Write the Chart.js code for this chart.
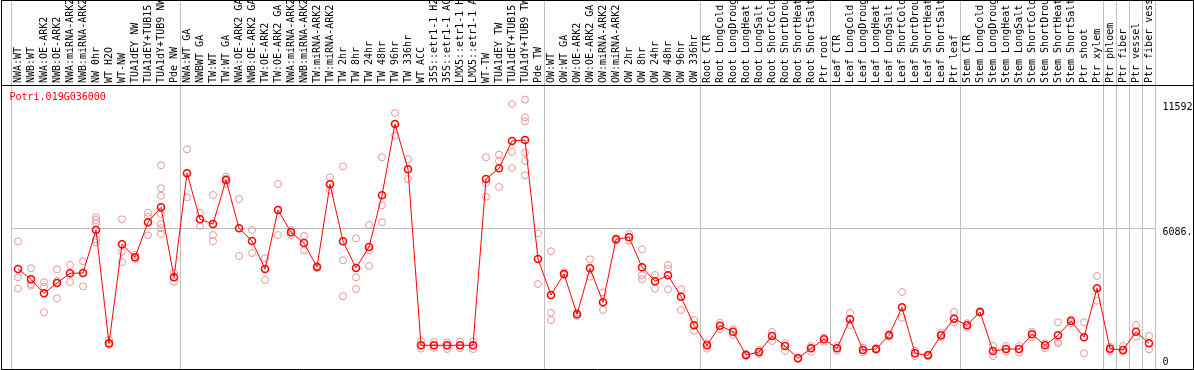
<!DOCTYPE html>
<html>
<head>
<meta charset="utf-8">
<script src="https://cdn.jsdelivr.net/npm/chart.js@4/dist/chart.umd.min.js"></script>
<style>
  html, body { margin: 0; padding: 0; background: #fff; }
  #wrap { width: 1194px; height: 370px; position: relative; }
</style>
</head>
<body>
<div id="wrap"><canvas id="c" width="1194" height="370"></canvas></div>
<script>
const geneName = 'Potri.019G036000';

const categories = [
  'NWA:WT','NWB:WT','NWA:OE-ARK2','NWB:OE-ARK2','NWA:miRNA-ARK2','NWB:miRNA-ARK2','NW 0hr','WT H2O','WT-NW','TUA1dEY NW','TUA1dEY+TUB15 NW','TUA1dY+TUB9 NW','Pde NW',
  'NWA:WT GA','NWBWT GA','TW:WT','TW:WT GA','NWA:OE-ARK2 GA','NWB:OE-ARK2 GA','TW:OE-ARK2','TW:OE-ARK2 GA','NWA:miRNA-ARK2 GA','NWB:miRNA-ARK2 GA','TW:miRNA-ARK2','TW:miRNA-ARK2 GA',
  'TW 2hr','TW 8hr','TW 24hr','TW 48hr','TW 96hr','TW 336hr','WT ACC','35S::etr1-1 H2O','35S::etr1-1 ACC','LMX5::etr1-1 H2O','LMX5::etr1-1 ACC','WT-TW','TUA1dEY TW','TUA1dEY+TUB15 TW','TUA1dY+TUB9 TW','Pde TW',
  'OW:WT','OW:WT GA','OW:OE-ARK2','OW:OE-ARK2 GA','OW:miRNA-ARK2','OW:miRNA-ARK2 GA','OW 2hr','OW 8hr','OW 24hr','OW 48hr','OW 96hr','OW 336hr',
  'Root CTR','Root LongCold','Root LongDrought','Root LongHeat','Root LongSalt','Root ShortCold','Root ShortDrought','Root ShortHeat','Root ShortSalt','Ptr root',
  'Leaf CTR','Leaf LongCold','Leaf LongDrought','Leaf LongHeat','Leaf LongSalt','Leaf ShortCold','Leaf ShortDrought','Leaf ShortHeat','Leaf ShortSalt','Ptr leaf',
  'Stem CTR','Stem LongCold','Stem LongDrought','Stem LongHeat','Stem LongSalt','Stem ShortCold','Stem ShortDrought','Stem ShortHeat','Stem ShortSalt','Ptr shoot','Ptr xylem',
  'Ptr phloem','Ptr fiber','Ptr vessel','Ptr fiber vessel'
];

const meanValues = [
  4329,3888,3288,3729,4145,4158,6001,1144,5388,4831,6331,6974,3973,
  8431,6459,6258,8144,6074,5529,4329,6858,5902,5443,4415,7959,5516,4372,5272,7488,10544,8602,1059,1059,1059,1059,1059,8187,8645,9815,9858,4758,
  3215,4115,2387,4359,2902,5602,5688,4402,3802,4059,3142,1916,
  1059,1899,1642,643,772,1457,1029,501,930,1316,
  930,2173,857,900,1487,2687,716,630,1487,2199,
  1916,2486,814,900,900,1530,1059,1487,2100,1402,3502,
  913,857,1642,1144
];

const replicateValues = [
  [5516,3973,3485],[4359,3686,3613],[3759,3570,2473],[4316,3815,3073],[4501,3772],[4659,3588],
  [6545,6429,6287,5602,5474],[1286,1072],[6459,5071,4629],[4929,4831,4758],[6742,6571,5774],
  [8774,7788,7471,6674,6258,6074,5829],[4170,3785],
  [9460,7402],[6742,6185],[7501,5786,5516],[8285,8200,7972],[7329,4886],[6001,5015],[4788,3858],
  [7972,5786],[6001,5786],[5744,5131],[4458,4372],[8259,7715],[8731,4702,3159],[5645,3973,3472],
  [6215,5143,4458],[9117,7059,6331],[11016,10043],[9031,8187],[1243,913],[1200,950],[1180,900],
  [1220,930],[1230,900],[9117,8015,7428],[9228,8958,7844],[11401,9344,8658],
  [11592,10831,10660,9314,8958,8345],[5859,3686],
  [5088,2456,2143],[4188,4072],[2456,2315],[4745,3999],[3330,2572],[5640,5560],[5829,5550],
  [5173,4059,3888],[4072,3485],[4501,4329,3459],[3459,2572],[2143,1684],
  [1144,913],[2027,1744],[1744,1500],[690,600],[857,686],[1629,1243],[1144,814],[520,480],[1029,784],[1402,1213],
  [1029,827],[2443,1929],[956,759],[940,860],[1540,1430],[3343,2242],[827,600],[660,600],[1599,1402],[2486,2027],
  [2002,1830],[2520,2450],[1030,600],[1029,784],[1029,742],[1642,1402],[1144,930],[2045,1213,1144],[2173,2002],[2045,716],[4029,2970],
  [999,814],[1029,784],[1929,1427],[1457,887]
];

const groupBoundaries = [0, 13, 41, 53, 63, 73, 84, 85, 86, 87, 88];
const yMax = 12172.8;
const yTickValues = [0, 6086.4, 11592];
const yTickLabels = ['0', '6086.4', '11592'];
const yGridValue = 6086.4;

const FONT = 'DejaVu Sans Mono';
const GRID = 'rgb(192,192,192)';
const MEAN_COLOR = 'rgb(255,0,0)';
const REP_COLOR = 'rgb(236,150,150)';

const replicatePoints = [];
replicateValues.forEach((reps, i) => reps.forEach(v => replicatePoints.push({ x: categories[i], y: v })));

const isBoundary = (ctx) => ctx.type !== 'tick' || groupBoundaries.includes(ctx.index);

// vertical placement of the y tick labels relative to their tick (2-line labels)
const yLabelShape = [
  { lines: (t) => [t, ''], lh: 15 },
  { lines: (t) => ['', t], lh: 9 },
  { lines: (t) => ['', t], lh: 16 }
];

const framePlugin = {
  id: 'frame',
  afterDraw(chart) {
    const ctx = chart.ctx;
    const a = chart.chartArea;
    ctx.save();
    ctx.strokeStyle = '#000';
    ctx.lineWidth = 1;
    ctx.beginPath();
    ctx.moveTo(1.5, 0.5); ctx.lineTo(1193.5, 0.5);
    ctx.moveTo(1.5, 0); ctx.lineTo(1.5, 370);
    ctx.moveTo(1193.5, 0); ctx.lineTo(1193.5, 370);
    ctx.moveTo(1, 369.5); ctx.lineTo(1194, 369.5);
    ctx.moveTo(1, a.top - 0.5); ctx.lineTo(1194, a.top - 0.5);
    ctx.stroke();
    ctx.fillStyle = MEAN_COLOR;
    ctx.font = '10px "' + FONT + '"';
    ctx.textBaseline = 'middle';
    ctx.textAlign = 'left';
    ctx.fillText(geneName, a.left - 2, a.top + 11);
    ctx.restore();
  }
};

new Chart(document.getElementById('c'), {
  type: 'line',
  data: {
    labels: categories,
    datasets: [
      {
        label: 'mean',
        data: meanValues,
        borderColor: MEAN_COLOR,
        borderWidth: 1,
        pointRadius: 3.5,
        pointBorderWidth: 1.6,
        pointBorderColor: MEAN_COLOR,
        pointBackgroundColor: 'rgba(0,0,0,0)',
        tension: 0
      },
      {
        label: 'replicates',
        data: replicatePoints,
        showLine: false,
        pointRadius: 3.5,
        pointBorderWidth: 1,
        pointBorderColor: REP_COLOR,
        pointBackgroundColor: 'rgba(0,0,0,0)'
      }
    ]
  },
  options: {
    responsive: false,
    animation: false,
    devicePixelRatio: 1,
    layout: { autoPadding: false, padding: { left: 11.5, right: 0, top: 0, bottom: 0 } },
    plugins: { legend: { display: false }, tooltip: { enabled: false }, title: { display: false } },
    scales: {
      x: {
        type: 'category',
        position: 'top',
        offset: true,
        border: { display: false },
        grid: {
          offset: true,
          drawTicks: true,
          tickLength: 86,
          color: (ctx) => isBoundary(ctx) ? GRID : 'rgba(0,0,0,0)',
          tickColor: (ctx) => isBoundary(ctx) ? GRID : 'rgba(0,0,0,0)',
          lineWidth: 1
        },
        ticks: {
          autoSkip: false,
          minRotation: 90,
          maxRotation: 90,
          padding: -83,
          labelOffset: 12,
          color: '#000',
          font: { family: FONT, size: 10 }
        },
        afterFit: (scale) => {
          scale.height = 86;
          scale.paddingLeft = 0; scale.paddingRight = 0;
          scale.paddingTop = 0; scale.paddingBottom = 0;
        }
      },
      y: {
        position: 'right',
        min: 0,
        max: yMax,
        border: { display: false },
        afterBuildTicks: (scale) => { scale.ticks = yTickValues.map(v => ({ value: v })); },
        grid: {
          drawTicks: false,
          color: (ctx) => (ctx.tick && ctx.tick.value === yGridValue) ? GRID : 'rgba(0,0,0,0)'
        },
        ticks: {
          padding: 7,
          color: '#000',
          callback: (value, index) => yLabelShape[index].lines(yTickLabels[index]),
          font: (ctx) => ({ family: FONT, size: 10, lineHeight: (yLabelShape[ctx.index] || yLabelShape[0]).lh + 'px' })
        },
        afterFit: (scale) => {
          scale.width = 38.5;
          scale.paddingTop = 0; scale.paddingBottom = 0;
          scale.paddingLeft = 0; scale.paddingRight = 0;
        }
      }
    }
  },
  plugins: [framePlugin]
});
</script>
</body>
</html>
